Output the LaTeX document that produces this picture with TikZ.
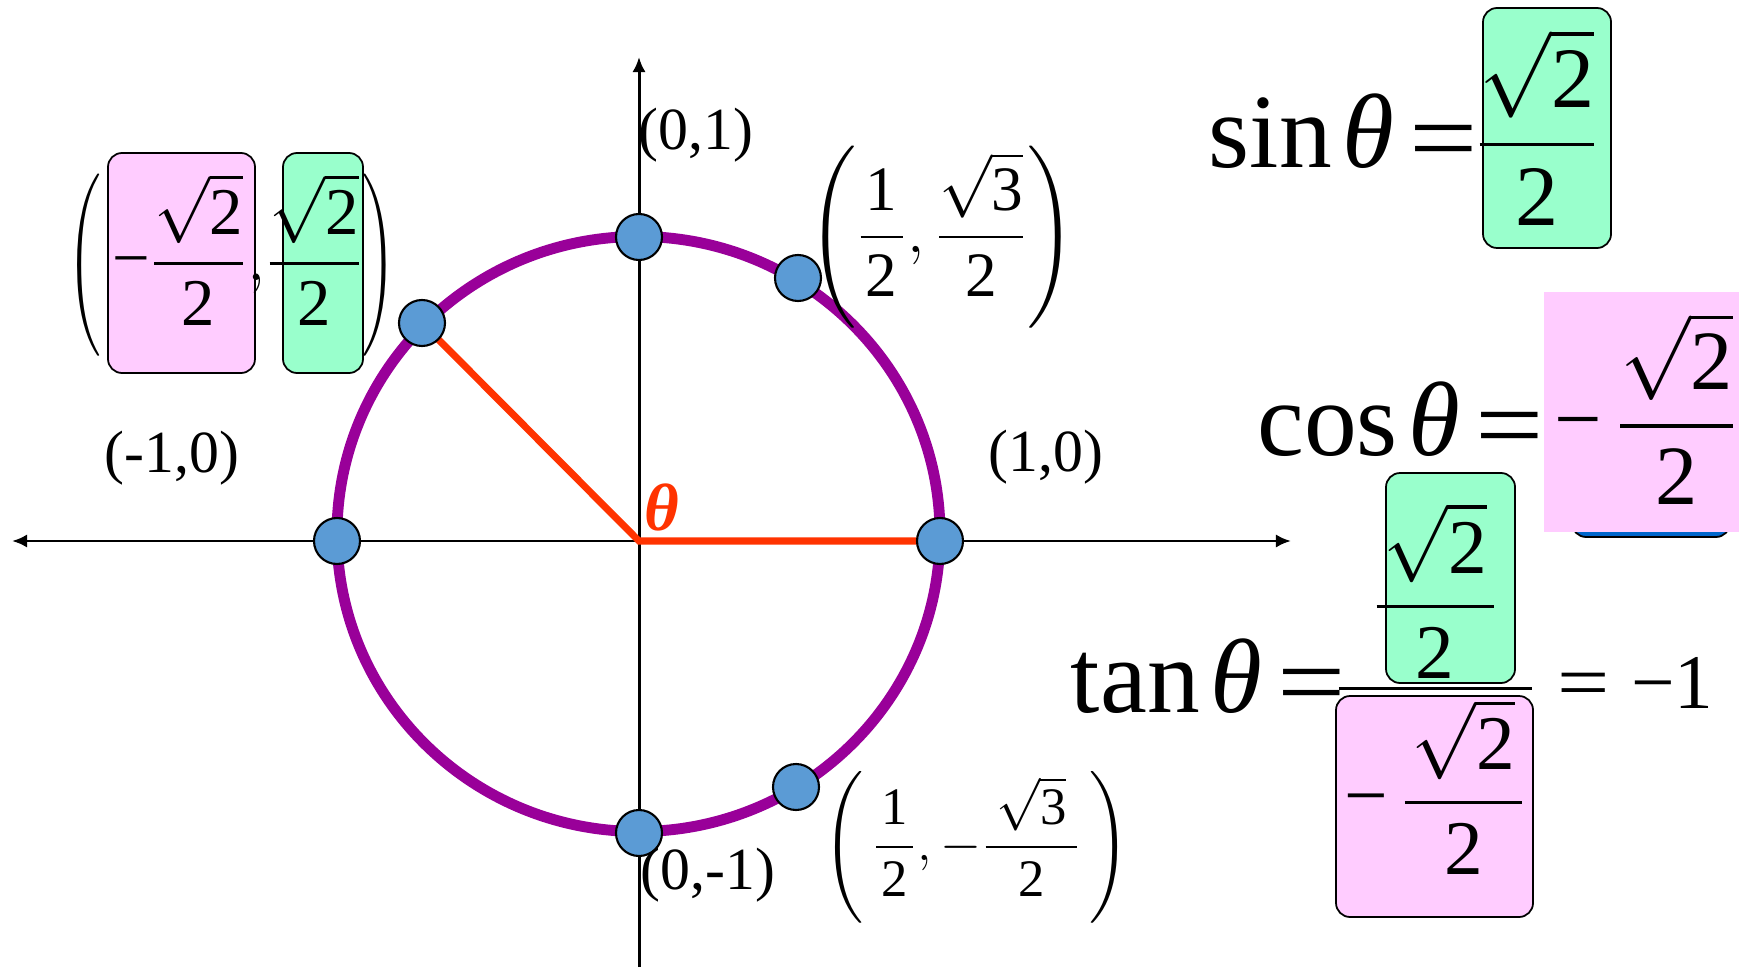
\documentclass[tikz,border=0pt]{standalone}
\usepackage{fix-cm}
\usepackage{amsmath}
\usepackage{graphicx}
\usepackage{fontspec}
\setmainfont{Liberation Serif}
\usetikzlibrary{arrows.meta}

\definecolor{morado}{HTML}{990099}
\definecolor{rojo}{HTML}{FF3300}
\definecolor{azulpunto}{HTML}{5B9BD5}
\definecolor{rosa}{HTML}{FFCCFF}
\definecolor{verde}{HTML}{99FFCC}
\definecolor{azul}{HTML}{0066CC}

\begin{document}
\begin{tikzpicture}[
    >={Latex[length=4.3pt, width=3.8pt]},
    eje/.style={line width=0.85pt},
    punto/.style={circle, fill=azulpunto, draw=black, line width=0.6pt,
                  minimum size=0.46cm, inner sep=0pt},
    caja/.style={draw=black, line width=0.5pt, rounded corners=4pt, inner sep=0pt},
    etiq/.style={inner sep=0pt, font=\fontsize{17}{20}\selectfont},
    grande/.style={inner sep=0pt, font=\fontsize{30}{36}\selectfont}
]

\useasboundingbox (-6.39,-4.26) rectangle (11.00,5.41);

% ── Ejes ──────────────────────────────────────────────────────
\coordinate (O)  at (0,0);
\coordinate (xl) at (-6.27,0);
\coordinate (xr) at (6.52,0);
\coordinate (yb) at (0,-4.26);
\coordinate (yt) at (0,4.84);
\draw[eje, <->] (xl) -- (xr);
\draw[eje, ->]  (yb) -- (yt);

% ── Circunferencia unitaria ───────────────────────────────────
\draw[morado, line width=3.1pt] (-0.005,0.07) ellipse [x radius=3.015, y radius=2.975];

% Puntos sobre la circunferencia
\coordinate (p0)   at (3.01,  0);
\coordinate (p60)  at (1.59,  2.63);
\coordinate (p90)  at (0,     3.04);
\coordinate (p135) at (-2.17, 2.18);
\coordinate (p180) at (-3.02, 0);
\coordinate (p270) at (0,    -2.92);
\coordinate (p300) at (1.57, -2.46);

% Radio y ángulo
\draw[rojo, line width=2pt] (p135) -- (O) -- (p0);
\node[inner sep=0pt, text=rojo, font=\fontsize{19}{22}\selectfont\bfseries\itshape]
    (ang) at (0.23, 0.34) {θ};

\foreach \p in {0,60,90,135,180,270,300}
    \node[punto] (d\p) at (p\p) {};

% ── Coordenadas ───────────────────────────────────────────────
\node[etiq] (l90)  at (0.57,  4.06)  {(0,1)};
\node[etiq] (l180) at (-4.67, 0.83)  {(-1,0)};
\node[etiq] (l0)   at (4.07,  0.84)  {(1,0)};
\node[etiq] (l270) at (0.69, -3.34)  {(0,-1)};

% cajas detrás de (-sqrt2/2, sqrt2/2)
\node[caja, fill=rosa,  minimum width=1.47cm, minimum height=2.20cm] (cx135) at (-4.575, 2.78) {};
\node[caja, fill=verde, minimum width=0.80cm, minimum height=2.20cm] (cy135) at (-3.16,  2.78) {};
\node[inner sep=0pt, font=\fontsize{19}{23}\selectfont] (l135) at (-4.07, 2.76)
    {$\mathopen{\text{\scalebox{0.7}[1]{\fontsize{17}{20}\selectfont$\Biggl($}}}\,\text{−}\dfrac{\sqrt{\text{2}}}{\text{2}},\!\dfrac{\sqrt{\text{2}}}{\text{2}}%
      \mathclose{\text{\scalebox{0.7}[1]{\fontsize{17}{20}\selectfont$\Biggr)$}}}$};

\node[inner sep=0pt, font=\fontsize{18}{21}\selectfont] (l60) at (3.03, 3.04)
    {$\left(\dfrac{\kern1.5pt\text{1}\kern1.5pt}{\text{2}},\dfrac{\sqrt{\text{3}}}{\text{2}}\right)$};
\node[inner sep=0pt, font=\fontsize{15}{18}\selectfont] (l300) at (3.375, -3.06)
    {$\left(\,\dfrac{\kern1.5pt\text{1}\kern1.5pt}{\text{2}},-\dfrac{\kern3pt\sqrt{\text{3}}\kern3pt}{\text{2}}\,\right)$};

% ── sin ───────────────────────────────────────────────────────
\node[caja, fill=verde, minimum width=1.28cm, minimum height=2.40cm] (csin) at (9.08, 4.13) {};
\node[grande, anchor=base east] (sen) at (8.40, 3.73)
    {sin\kern3pt\textit{θ}\kern4.5pt\raisebox{-1.5pt}{\scalebox{1.15}[1]{=}}};
\node[inner sep=0pt, anchor=base, font=\fontsize{24.5}{29}\selectfont] (vsen) at (8.98, 3.75)
    {$\dfrac{\sqrt{\text{2}}}{\text{2}}$};

% ── cos ───────────────────────────────────────────────────────
\node[caja, fill=azul, minimum width=1.58cm, minimum height=2.27cm] (ccos) at (10.12, 1.175) {};
\node[fill=rosa, inner sep=0pt, minimum width=1.95cm, minimum height=2.40cm] (rcos) at (10.025, 1.29) {};
\node[grande, anchor=base east] (cos) at (9.06, 0.86)
    {cos\kern3pt\textit{θ}\kern4.5pt\raisebox{-1.5pt}{\scalebox{1.15}[1]{=}}};
\node[inner sep=0pt, anchor=base, font=\fontsize{24}{29}\selectfont] (vcos) at (10.065, 0.94)
    {$\text{−}\,\dfrac{\sqrt{\text{2}}}{\text{2}}$};

% ── tan ───────────────────────────────────────────────────────
\node[caja, fill=verde, minimum width=1.29cm, minimum height=2.10cm] (ctan1) at (8.115, -0.37) {};
\node[caja, fill=rosa,  minimum width=1.97cm, minimum height=2.21cm] (ctan2) at (7.955, -2.655) {};
\node[grande, anchor=base east] (tan) at (7.08, -1.71)
    {tan\kern3pt\textit{θ}\kern4.5pt\raisebox{-1.5pt}{\scalebox{1.15}[1]{=}}};
\node[inner sep=0pt, anchor=base west, font=\fontsize{22}{26}\selectfont] (vtan) at (6.95, -1.67)
    {$\dfrac{\dfrac{\kern2pt\sqrt{\text{2}}\kern2pt}{\text{2}}}%
            {\kern1.5pt\text{−}\,\dfrac{\kern2pt\sqrt{\text{2}}\kern2pt}{\text{2}}\kern1.5pt}%
      \mathrel{\text{\scalebox{1.2}[1]{=}}}\text{−}\text{1}$};

\end{tikzpicture}
\end{document}
